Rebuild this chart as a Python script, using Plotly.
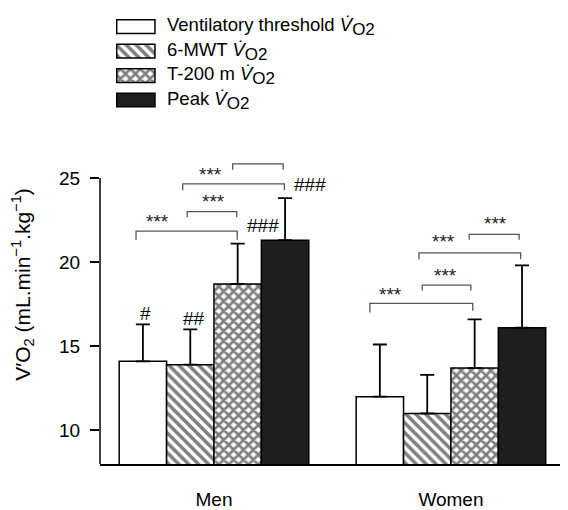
import plotly.graph_objects as go

groups = ["Men", "Women"]
series = ["Ventilatory threshold", "6-MWT", "T-200 m", "Peak"]
means = {
    "Ventilatory threshold": [14.1, 12.0],
    "6-MWT": [13.9, 11.0],
    "T-200 m": [18.7, 13.7],
    "Peak": [21.3, 16.1],
}
sd = {
    "Ventilatory threshold": [2.2, 3.1],
    "6-MWT": [2.1, 2.3],
    "T-200 m": [2.4, 2.9],
    "Peak": [2.5, 3.7],
}
y_ticks = [10, 15, 20, 25]

# significance brackets: (x0, x1, y, leg bottom left, leg bottom right, star x, star y)
brackets = [
    (-0.329, 0.098, 21.84, 21.32, 21.32, -0.238, 22.42),
    (-0.113, 0.096, 23.00, 22.67, 22.67, 0.000, 23.59),
    (-0.132, 0.297, 24.65, 24.27, 24.27, -0.014, 25.20),
    (0.079, 0.292, 25.84, 25.49, 25.49, 0.197, 26.50),
    (0.658, 1.092, 17.54, 17.00, 17.10, 0.746, 18.08),
    (0.879, 1.084, 18.63, 18.31, 18.31, 0.979, 19.19),
    (0.865, 1.294, 20.55, 20.16, 20.16, 0.968, 21.22),
    (1.077, 1.288, 21.65, 21.32, 21.32, 1.190, 22.29),
]
hash_marks = [("#", -0.291, 16.96), ("##", -0.083, 16.67),
              ("###", 0.205, 22.15), ("###", 0.405, 24.60)]

FONT = "Liberation Sans, Arial, sans-serif"
styles = {
    "Ventilatory threshold": dict(color="white", pattern=None),
    "6-MWT": dict(color="white", pattern=dict(shape="\\", size=7, solidity=0.5, fgcolor="black", bgcolor="white")),
    "T-200 m": dict(color="white", pattern=dict(shape="x", size=7, solidity=0.62, fgcolor="black", bgcolor="white")),
    "Peak": dict(color="#1e1e1e", pattern=None),
}

fig = go.Figure()
for s in series:
    st = styles[s]
    marker = dict(color=st["color"], line=dict(color="black", width=1.5))
    if st["pattern"]:
        marker["pattern"] = st["pattern"]
    fig.add_trace(go.Bar(
        x=groups, y=means[s], name=s, marker=marker, showlegend=False,
        error_y=dict(type="data", symmetric=False, array=sd[s], arrayminus=[0] * len(groups),
                     color="black", thickness=1.8, width=7),
        xaxis="x", yaxis="y",
    ))

# custom legend swatches
for i, s in enumerate(series):
    st = styles[s]
    marker = dict(color=st["color"], line=dict(color="black", width=1.5))
    if st["pattern"]:
        marker["pattern"] = st["pattern"]
    fig.add_trace(go.Bar(
        x=[1], y=[i], base=0, orientation="h", width=0.56, marker=marker,
        showlegend=False, xaxis="x2", yaxis="y2", cliponaxis=False, hoverinfo="skip",
    ))

shapes = [dict(type="line", xref="paper", yref="y", x0=0, x1=0, y0=8, y1=25,
               line=dict(color="black", width=1.5))]
annotations = []
for (x0, x1, y, l0, l1, sx, sy) in brackets:
    shapes.append(dict(type="path", xref="x", yref="y",
                       path=f"M{x0},{l0} L{x0},{y} L{x1},{y} L{x1},{l1}",
                       line=dict(color="#555555", width=1.3)))
    annotations.append(dict(x=sx, y=sy, xref="x", yref="y", text="***", showarrow=False,
                            font=dict(family=FONT, size=19, color="#222222"),
                            xanchor="center", yanchor="middle"))
for (t, hx, hy) in hash_marks:
    annotations.append(dict(x=hx, y=hy, xref="x", yref="y", text=t, showarrow=False,
                            font=dict(family=FONT, size=19, color="black"),
                            xanchor="center", yanchor="middle"))

legend_labels = [s + ' <i>V̇</i><sub><span style="font-size:17px">O2</span></sub>' for s in series]
for i, lab in enumerate(legend_labels):
    annotations.append(dict(x=0.1389, y=i, xref="paper", yref="y2", text=lab, showarrow=False,
                            font=dict(family=FONT, size=18.5, color="black"),
                            xanchor="left", yanchor="middle"))

annotations.append(dict(x=-0.1645, y=18.65, xref="paper", yref="y",
                        text="V′O<sub>2</sub> (mL.min<sup>−1</sup>.kg<sup>−1</sup>)",
                        textangle=-90, showarrow=False,
                        font=dict(family=FONT, size=21, color="black"),
                        xanchor="center", yanchor="middle"))

fig.update_layout(
    width=560, height=502,
    margin=dict(l=92, r=0, t=2, b=36),
    paper_bgcolor="white", plot_bgcolor="white",
    barmode="group", bargap=0.2, bargroupgap=0,
    font=dict(family=FONT, size=18, color="black"),
    xaxis=dict(type="category", categoryorder="array", categoryarray=groups,
               range=[-0.481, 1.494], showline=True, linecolor="black", linewidth=1.5,
               ticks="outside", ticklen=17, tickcolor="rgba(0,0,0,0)",
               tickfont=dict(size=19), showgrid=False, zeroline=False, anchor="y"),
    yaxis=dict(domain=[0, 0.6746], range=[8, 26.2], tickvals=y_ticks, showline=False,
               ticks="outside", ticklen=9, tickwidth=1.5, tickcolor="black",
               ticklabelstandoff=6,
               tickfont=dict(size=19), showgrid=False, zeroline=False, anchor="x"),
    xaxis2=dict(domain=[0.0333, 0.1199], range=[-0.03, 1.03], visible=False, anchor="y2"),
    yaxis2=dict(domain=[0.7748, 0.9903], range=[3.5, -0.5], visible=False, anchor="x2"),
    shapes=shapes, annotations=annotations,
)

fig.write_html("out.html")
